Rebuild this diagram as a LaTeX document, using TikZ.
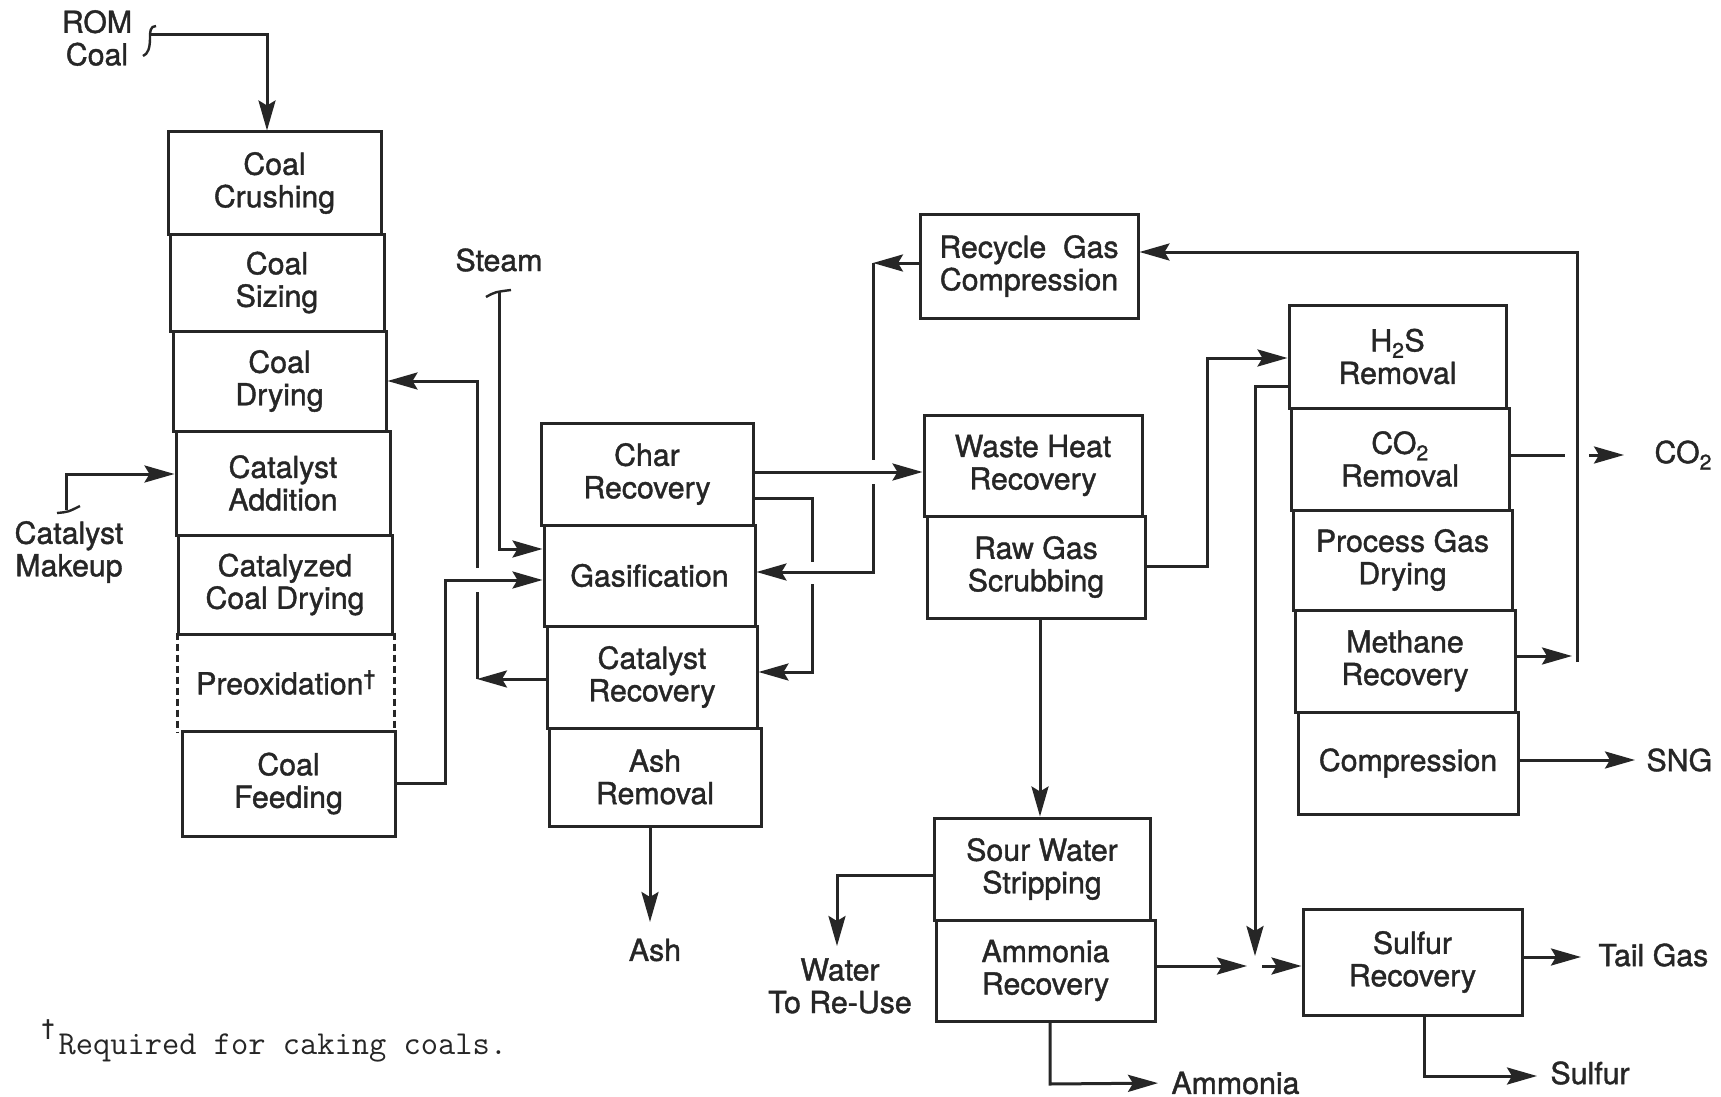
\documentclass[tikz,border=0pt]{standalone}
\usepackage{fontspec}
\setmainfont{TeX Gyre Heros}[FakeBold=1.3]
\usetikzlibrary{arrows.meta}
\definecolor{ink}{RGB}{38,38,38}
\newcommand{\bxfont}{\fontsize{30.3}{32.5}\selectfont}
\begin{document}
\begin{tikzpicture}[x=1pt,y=-1pt,line width=3pt,color=ink,
  blk/.style={draw, inner sep=0pt, align=center, font=\bxfont},
  lbl/.style={inner sep=0pt, align=center, font=\bxfont},
  arr/.style={-{Stealth[length=30pt,width=17pt,inset=5pt]}},
  dsh/.style={dash pattern=on 7pt off 4pt}]
\useasboundingbox (0,0) rectangle (1721,1097);
\fill[white] (0,0) rectangle (1721,1097);

% ---- left column
\node[blk, minimum width=213pt, minimum height=102pt] (cc)  at (274.5,183)   {Coal\\Crushing};
\node[blk, minimum width=214pt, minimum height=97pt]  (cs)  at (277,282.5)   {Coal\\Sizing};
\node[blk, minimum width=213pt, minimum height=100pt] (cdr) at (279.5,381)   {Coal\\Drying};
\node[blk, minimum width=214pt, minimum height=104pt] (ca)  at (283,483)     {Catalyst\\Addition};
\node[blk, minimum width=214pt, minimum height=99pt]  (ccd) at (285,584.5)   {Catalyzed\\Coal Drying};
\node[blk, draw=none, minimum width=214pt, minimum height=97pt] (pre) at (286,682.5) {Preoxidation\textsuperscript{\textdagger}};
\draw[dsh] (pre.north west) -- (pre.south west);
\draw[dsh] (pre.north east) -- (pre.south east);
\node[blk, minimum width=213pt, minimum height=105pt] (cf)  at (288.5,783.5) {Coal\\Feeding};

% ---- middle column
\node[blk, minimum width=212pt, minimum height=102pt] (chr)  at (647,474)   {Char\\Recovery};
\node[blk, minimum width=211pt, minimum height=101pt] (gas)  at (649.5,575.5) {Gasification};
\node[blk, minimum width=210pt, minimum height=102pt] (crec) at (652,677)   {Catalyst\\Recovery};
\node[blk, minimum width=212pt, minimum height=98pt]  (ash)  at (655,777)   {Ash\\Removal};

% ---- right part
\node[blk, minimum width=218pt, minimum height=104pt] (rgc) at (1029,266)   {Recycle\ \ Gas\\Compression};
\node[blk, minimum width=218pt, minimum height=101pt] (whr) at (1033,465.5) {Waste Heat\\Recovery};
\node[blk, minimum width=218pt, minimum height=102pt] (rgs) at (1036,567)   {Raw Gas\\Scrubbing};
\node[blk, minimum width=216pt, minimum height=102pt] (sws) at (1042,869)   {Sour Water\\Stripping};
\node[blk, minimum width=219pt, minimum height=101pt] (amr) at (1045.5,970.5) {Ammonia\\Recovery};

\node[blk, minimum width=217pt, minimum height=103pt] (h2s)  at (1397.5,356.5) {H\textsubscript{2}S\\Removal};
\node[blk, minimum width=218pt, minimum height=102pt] (co2)  at (1400,459)     {CO\textsubscript{2}\\Removal};
\node[blk, minimum width=219pt, minimum height=100pt] (pgd)  at (1402.5,560)   {Process Gas\\Drying};
\node[blk, minimum width=220pt, minimum height=102pt] (mr)   at (1405,661)     {Methane\\Recovery};
\node[blk, minimum width=220pt, minimum height=102pt] (comp) at (1408,763)     {Compression};
\node[blk, minimum width=219pt, minimum height=106pt] (sr)   at (1412.5,962)   {Sulfur\\Recovery};

% ---- labels
\node[lbl] (romlbl) at (97,38) {ROM\\Coal};
\node[lbl] (catlbl) at (69,552) {Catalyst\\Makeup};
\node[lbl] (stmlbl) at (499,260) {Steam};
\node[lbl] (ashlbl) at (655,950) {Ash};
\node[lbl] (watlbl) at (840,986) {Water\\To Re-Use};
\node[lbl, anchor=west] (amlbl) at (1170,1083) {Ammonia};
\node[lbl, anchor=west] (co2lbl) at (1653,455) {CO\textsubscript{2}};
\node[lbl, anchor=west] (snglbl) at (1645,760) {SNG};
\node[lbl, anchor=west] (tglbl) at (1597,955) {Tail Gas};
\node[lbl, anchor=west] (sulbl) at (1549,1073) {Sulfur};
\node[anchor=base west, inner sep=0pt, font=\fontsize{33.5}{36}\ttfamily] (fn) at (57,1054) {Required for caking coals.};
\node[inner sep=0pt, font=\fontsize{22}{24}\selectfont] (dg) at (48,1029) {\textdagger};

% ---- feed marks
\coordinate (rom) at (150,35);
\coordinate (stm) at (499,292);
\coordinate (cmk) at (66,510);
\draw[line width=2.4pt] (156,26) .. controls (150,26) and (150,32) .. (150,38) .. controls (150,48) and (148,54) .. (143,56);
\draw[line width=2.4pt] (486,297) .. controls (495,292) .. (511,290);
\draw[line width=2.4pt] (57,513) .. controls (68,512) .. (80,506);

% ---- connectors
\draw[arr] (rom) -- (267,35) -- (cc.north -| 267,0);
\draw[arr] (cmk) -- (66,474) -- (ca.west |- 0,474);
\draw[arr] (stm) -- (499,549) -- (gas.west |- 0,549);
\draw[arr] (cf.east |- 0,783) -- (445,783) -- (445,580) -- (gas.west |- 0,580);

\draw[arr] (crec.west |- 0,679) -- (477,679);
\draw (477,679) -- (477,592);
\draw[arr] (477,568) -- (477,381) -- (cdr.east |- 0,381);

\draw[arr] (chr.east |- 0,472) -- (whr.west |- 0,472);
\draw (chr.east |- 0,498) -- (812,498) -- (812,562);
\draw[arr] (812,584) -- (812,672) -- (crec.east |- 0,672);

\draw[arr] (rgc.west |- 0,263) -- (873,263);
\draw (873,263) -- (873,460);
\draw[arr] (873,484) -- (873,572) -- (gas.east |- 0,572);

\draw[arr] (ash.south -| 650,0) -- (650,922);

\draw[arr] (rgs.east |- 0,566) -- (1207,566) -- (1207,358) -- (h2s.west |- 0,358);
\draw[arr] (rgs.south -| 1040,0) -- (sws.north -| 1040,0);
\draw[arr] (sws.west |- 0,875) -- (837,875) -- (837,946);
\draw[arr, shorten >=12pt] (amr.south -| 1050,0) -- (1050,1084) -- (amlbl.west);

\draw[arr] (amr.east |- 0,966) -- (1247,966);
\draw[arr] (1262,966) -- (sr.west |- 0,966);
\draw[arr] (h2s.west |- 0,386) -- (1255,386) -- (1255,956);

\draw (co2.east |- 0,455) -- (1565,455);
\draw[arr] (1589,455) -- (1624,455);
\draw[arr] (mr.east |- 0,656) -- (1572,656);
\draw[arr] (1577,662) -- (1577,252) -- (rgc.east |- 0,252);
\draw[arr] (comp.east |- 0,760) -- (1635,760);
\draw[arr] (sr.east |- 0,957) -- (1581,957);
\draw[arr] (sr.south -| 1424,0) -- (1424,1076) -- (1537,1076);
\end{tikzpicture}
\end{document}
